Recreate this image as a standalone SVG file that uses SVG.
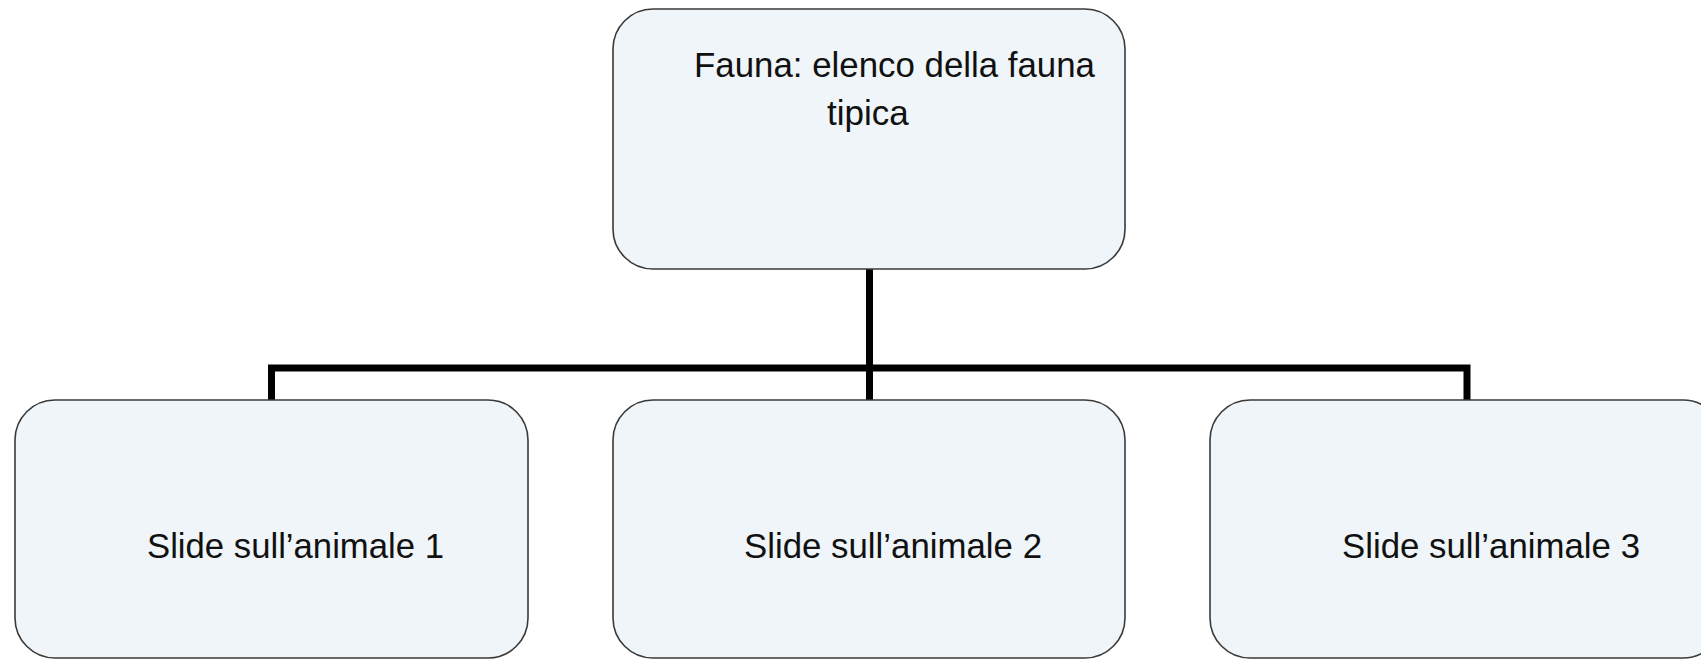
<svg xmlns="http://www.w3.org/2000/svg" width="1701" height="659" viewBox="0 0 1701 659">
<style>
.box{fill:#eff5f8;stroke:#3a3a3a;stroke-width:1.6}
.lbl{font-family:"Liberation Sans",Arial,sans-serif;font-size:35px;fill:#111}
.conn{fill:none;stroke:#000;stroke-width:7;stroke-linejoin:miter}
</style>
<rect width="1701" height="659" fill="#ffffff"/>
<g id="connectors">
<path class="conn" d="M869.5 269 V400"/>
<path class="conn" d="M271.5 400 V368 H1467 V400"/>
</g>
<g id="node-fauna">
<rect class="box" x="613" y="9" width="512" height="260" rx="40" ry="40"/>
<text class="lbl" x="694" y="77" textLength="401" lengthAdjust="spacingAndGlyphs">Fauna: elenco della fauna</text>
<text class="lbl" x="827" y="125">tipica</text>
</g>
<g id="node-animale1">
<rect class="box" x="15" y="400" width="513" height="258" rx="40" ry="40"/>
<text class="lbl" x="147" y="558" textLength="297" lengthAdjust="spacingAndGlyphs">Slide sull’animale 1</text>
</g>
<g id="node-animale2">
<rect class="box" x="613" y="400" width="512" height="258" rx="40" ry="40"/>
<text class="lbl" x="744" y="558" textLength="298" lengthAdjust="spacingAndGlyphs">Slide sull’animale 2</text>
</g>
<g id="node-animale3">
<rect class="box" x="1210" y="400" width="513" height="258" rx="40" ry="40"/>
<text class="lbl" x="1342" y="558" textLength="298" lengthAdjust="spacingAndGlyphs">Slide sull’animale 3</text>
</g>
</svg>
